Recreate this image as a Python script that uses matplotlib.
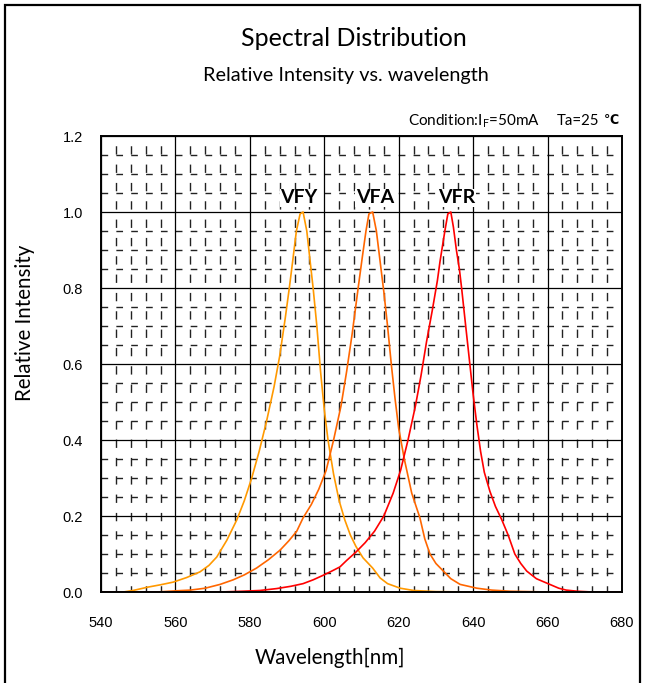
import matplotlib
matplotlib.use("Agg")
import matplotlib.pyplot as plt
from matplotlib.patches import Rectangle
import numpy as np

# ---- data ----
vfy_wl = [540, 546, 548.6, 552.7, 556, 559.4, 563, 566.6, 569, 571.1, 573.8, 576.5, 578.5, 580.5,
          582.5, 584.5, 586.5, 588, 589.5, 590.6, 591.5, 592.5, 593.5, 594.3, 595.3, 596.2, 597,
          598, 599, 600, 601, 602.5, 604, 605.5, 607, 608.5, 610.4, 613, 615, 617, 620.4, 624,
          630, 640, 680]
vfy_int = [0.0, 0.0, 0.004, 0.013, 0.019, 0.026, 0.038, 0.053, 0.07, 0.092, 0.136, 0.19, 0.24, 0.30,
           0.37, 0.45, 0.54, 0.62, 0.72, 0.80, 0.87, 0.95, 0.995, 1.0, 0.95, 0.87, 0.80,
           0.70, 0.58, 0.48, 0.40, 0.31, 0.24, 0.19, 0.15, 0.12, 0.09, 0.063, 0.037, 0.022, 0.01, 0.004,
           0.001, 0.0, 0.0]

vfa_wl = [540, 555, 560, 564, 568, 572, 575.5, 578.5, 581.8, 585, 588.1, 590.5, 592.6, 594.3,
          596.5, 598.5, 600.5, 602.5, 604.5, 606, 607.5, 609.1, 610.2, 611.2, 612, 613, 614, 615,
          616, 617, 618, 619, 620, 621.5, 623.5, 625.7, 627, 628.4, 630, 632, 634, 636.5, 641,
          645, 650, 660, 680]
vfa_int = [0.0, 0.0, 0.003, 0.005, 0.01, 0.02, 0.032, 0.045, 0.063, 0.085, 0.11, 0.135, 0.16, 0.195,
           0.23, 0.27, 0.32, 0.40, 0.49, 0.58, 0.68, 0.80, 0.88, 0.95, 0.995, 1.0, 0.95, 0.87,
           0.79, 0.70, 0.60, 0.51, 0.43, 0.35, 0.26, 0.195, 0.14, 0.10, 0.075, 0.055, 0.035, 0.02, 0.01,
           0.005, 0.002, 0.0, 0.0]

vfr_wl = [540, 572, 578, 582.7, 587.2, 591, 594.3, 597, 599.7, 602, 604.2, 606, 608.5, 611, 613.5,
          616, 618.5, 620.5, 622.5, 624.5, 626, 627.5, 629, 630.4, 631.1, 632.4, 633.2, 634, 634.7,
          635.5, 636.3, 636.9, 638, 639, 640, 641, 642, 643, 644.5, 646, 647.7, 649.4, 651.2, 652.8,
          654.4, 657, 660.6, 663, 665, 668, 672, 680]
vfr_int = [0.0, 0.0, 0.002, 0.004, 0.009, 0.015, 0.022, 0.032, 0.044, 0.055, 0.066, 0.083, 0.105, 0.13, 0.16,
           0.20, 0.26, 0.32, 0.40, 0.49, 0.57, 0.66, 0.74, 0.82, 0.87, 0.95, 0.995, 1.0, 0.96,
           0.90, 0.85, 0.80, 0.70, 0.61, 0.52, 0.44, 0.37, 0.315, 0.265, 0.225, 0.19, 0.15, 0.10, 0.075,
           0.055, 0.035, 0.02, 0.01, 0.005, 0.002, 0.0, 0.0]

series_names = ["VFY", "VFA", "VFR"]
series_colors = ["#FF9900", "#FF6600", "#FF0000"]
label_pos = [(593.2, 1.015), (613.6, 1.015), (635.6, 1.015)]

x_ticks = [540, 560, 580, 600, 620, 640, 660, 680]
y_ticks = [0.0, 0.2, 0.4, 0.6, 0.8, 1.0, 1.2]

# ---- figure ----
W, H = 645, 683
fig = plt.figure(figsize=(W / 100, H / 100), dpi=100)
fig.patch.set_facecolor("white")

# outer frame
fig.patches.append(Rectangle((5 / W, -0.05), (640 - 5) / W, 1 - 5 / H + 0.05,
                             transform=fig.transFigure, fill=False, edgecolor="black",
                             linewidth=1.6, zorder=0))

ax = fig.add_axes([101 / W, 1 - 592 / H, (622 - 101) / W, (592 - 136) / H])
ax.set_xlim(540, 680)
ax.set_ylim(0, 1.2)

# minor grid (dashed)
for x in np.arange(540, 681, 4):
    if x % 20 != 0:
        ax.axvline(x, color="#222222", lw=1.0, linestyle=(1.5, (6, 7.2)), zorder=1)
for y in np.arange(0, 1.2001, 0.05):
    if round(y / 0.2, 6) % 1 != 0:
        ax.axhline(y, color="#222222", lw=1.0, linestyle=(0, (4.8, 5.9)), zorder=1)
# major grid
for x in x_ticks:
    ax.axvline(x, color="black", lw=0.9, zorder=1.5)
for y in y_ticks:
    ax.axhline(y, color="black", lw=0.9, zorder=1.5)

for wl, inten, c in zip([vfy_wl, vfa_wl, vfr_wl], [vfy_int, vfa_int, vfr_int], series_colors):
    ax.plot(wl, inten, color=c, lw=1.2, zorder=3)

for name, (lx, ly) in zip(series_names, label_pos):
    ax.text(lx, ly, name, ha="center", va="bottom", fontsize=14, fontweight="bold",
            family="Lato", color="black", zorder=4,
            bbox=dict(facecolor="white", edgecolor="none", pad=0.5))

ax.set_xticks(x_ticks)
ax.set_xticklabels([str(v) for v in x_ticks])
ax.set_yticks(y_ticks)
ax.set_yticklabels([f"{v:.1f}" for v in y_ticks])
ax.tick_params(length=0, labelsize=10.5)
for lab in ax.get_xticklabels() + ax.get_yticklabels():
    lab.set_family("Liberation Sans")
ax.tick_params(axis="y", pad=13)
ax.tick_params(axis="x", pad=17)
for s in ax.spines.values():
    s.set_linewidth(1.4)
    s.set_color("black")
    s.set_zorder(5)

fig.text(354 / W, 1 - 39 / H, "Spectral Distribution", ha="center", va="center",
         fontsize=18, family="Lato")
fig.text(346 / W, 1 - 75 / H, "Relative Intensity vs. wavelength", ha="center", va="center",
         fontsize=14.3, family="Lato")
fig.text(408 / W, 1 - 121 / H, "Condition:I$_\\mathregular{F}$=50mA", ha="left", va="center",
         fontsize=11, family=["Lato", "DejaVu Sans"])
fig.text(557 / W, 1 - 121 / H, "Ta=25", ha="left", va="center",
         fontsize=10.8, family=["Lato", "DejaVu Sans"])
fig.text(604 / W, 1 - 120 / H, "\u2103", ha="left", va="center",
         fontsize=9, fontweight="bold", family=["DejaVu Sans"])
fig.text(25 / W, 1 - 323 / H, "Relative Intensity", ha="center", va="center",
         rotation=90, fontsize=14.8, family="Lato")
fig.text(330 / W, 1 - 658 / H, "Wavelength[nm]", ha="center", va="center",
         fontsize=14.8, family="Lato")

fig.savefig("out.png", dpi=100, facecolor="white")
